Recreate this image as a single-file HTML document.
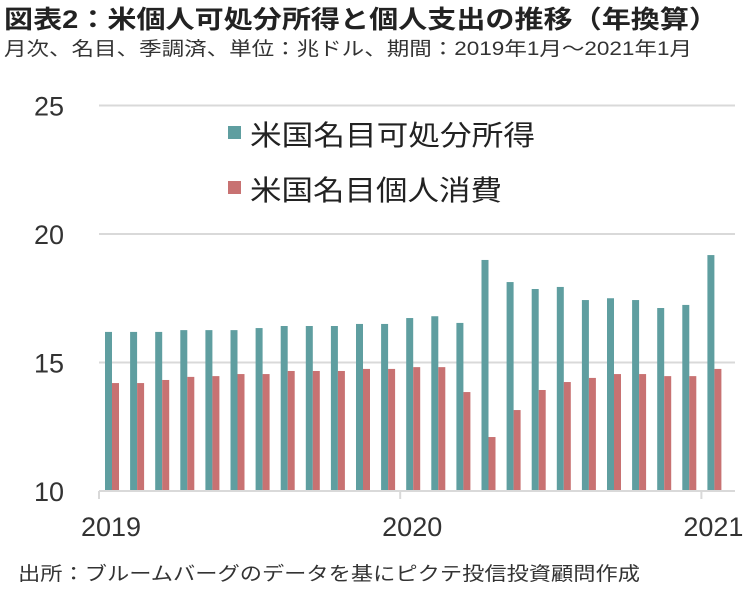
<!DOCTYPE html>
<html><head><meta charset="utf-8"><style>
body{margin:0;background:#fff;width:756px;height:589px;overflow:hidden;font-family:"Liberation Sans","Noto Sans CJK JP",sans-serif;}
</style></head><body>
<svg width="756" height="589" xmlns="http://www.w3.org/2000/svg">
<text x="4" y="28" font-size="25" font-weight="bold" fill="#222" textLength="714" lengthAdjust="spacingAndGlyphs" font-family="Liberation Sans,Noto Sans CJK JP,sans-serif">図表2：米個人可処分所得と個人支出の推移（年換算）</text>
<text x="4" y="55" font-size="19" fill="#333" textLength="688" lengthAdjust="spacingAndGlyphs" font-family="Liberation Sans,Noto Sans CJK JP,sans-serif">月次、名目、季調済、単位：兆ドル、期間：2019年1月～2021年1月</text>
<g id="grid"></g><g id="bars"></g><g id="axes"></g>
<rect x="228" y="126" width="13" height="13" fill="#5f9ea0"/>
<text x="250" y="145" font-size="28" fill="#222" textLength="285" lengthAdjust="spacingAndGlyphs" font-family="Liberation Sans,Noto Sans CJK JP,sans-serif">米国名目可処分所得</text>
<rect x="228" y="181" width="13" height="13" fill="#c87272"/>
<text x="250" y="200" font-size="28" fill="#222" textLength="252" lengthAdjust="spacingAndGlyphs" font-family="Liberation Sans,Noto Sans CJK JP,sans-serif">米国名目個人消費</text>
<text x="18" y="580" font-size="19" fill="#333" textLength="622" lengthAdjust="spacingAndGlyphs" font-family="Liberation Sans,Noto Sans CJK JP,sans-serif">出所：ブルームバーグのデータを基にピクテ投信投資顧問作成</text>
</svg>
<script>
const months = ["2019-01","2019-02","2019-03","2019-04","2019-05","2019-06","2019-07","2019-08","2019-09","2019-10","2019-11","2019-12","2020-01","2020-02","2020-03","2020-04","2020-05","2020-06","2020-07","2020-08","2020-09","2020-10","2020-11","2020-12","2021-01"];
const income = [16.19,16.19,16.19,16.26,16.26,16.26,16.34,16.42,16.42,16.42,16.5,16.5,16.73,16.8,16.54,18.99,18.13,17.86,17.94,17.43,17.5,17.43,17.12,17.24,19.18];
const spending = [14.2,14.2,14.32,14.44,14.47,14.55,14.55,14.67,14.67,14.67,14.75,14.75,14.82,14.82,13.85,12.1,13.15,13.93,14.24,14.4,14.55,14.55,14.47,14.47,14.75];
const yTicks = [10,15,20,25];
const xLabels = [{i:0,t:"2019"},{i:12,t:"2020"},{i:24,t:"2021"}];
const NS="http://www.w3.org/2000/svg";
const x0=99, step=25.1, yBase=491, pxPer=25.7;
const y = v => yBase-(v-10)*pxPer;
const xs = i => x0+i*step;
function mk(tag,attrs,parent){const e=document.createElementNS(NS,tag);for(const k in attrs)e.setAttribute(k,attrs[k]);parent.appendChild(e);return e;}
const grid=document.getElementById('grid'),bars=document.getElementById('bars'),axes=document.getElementById('axes');
yTicks.forEach(v=>{
  if(v>10){const l=mk('line',{x1:x0,x2:735,y1:y(v),y2:y(v),stroke:'#d9d9d9','stroke-width':2},grid);
  
  }
  const t=mk('text',{x:64,y:y(v)+10,'font-size':27,'text-anchor':'end',fill:'#333','font-family':'Liberation Sans,sans-serif'},axes);
  t.textContent=v;
  
  
});
months.forEach((m,i)=>{
  const cx=xs(i)+12.5;
  const b1=mk('rect',{x:cx-6.5,y:y(income[i]),width:7,height:yBase-y(income[i]),fill:'#5f9ea0'},bars);
  
  
  const b2=mk('rect',{x:cx+0.5,y:y(spending[i]),width:7,height:yBase-y(spending[i]),fill:'#c87272'},bars);
  
  
});
const ax=mk('line',{x1:x0,x2:735,y1:yBase,y2:yBase,stroke:'#d9d9d9','stroke-width':2},axes);


xLabels.forEach(o=>{
  const tx=xs(o.i);
  const tk=mk('line',{x1:tx,x2:tx,y1:yBase,y2:yBase+8,stroke:'#d9d9d9','stroke-width':2},axes);
  
  
  const t=mk('text',{x:tx+12,y:536,'font-size':27,'text-anchor':'middle',fill:'#333','font-family':'Liberation Sans,sans-serif'},axes);
  t.textContent=o.t;
  
  
});
</script>
</body></html>
